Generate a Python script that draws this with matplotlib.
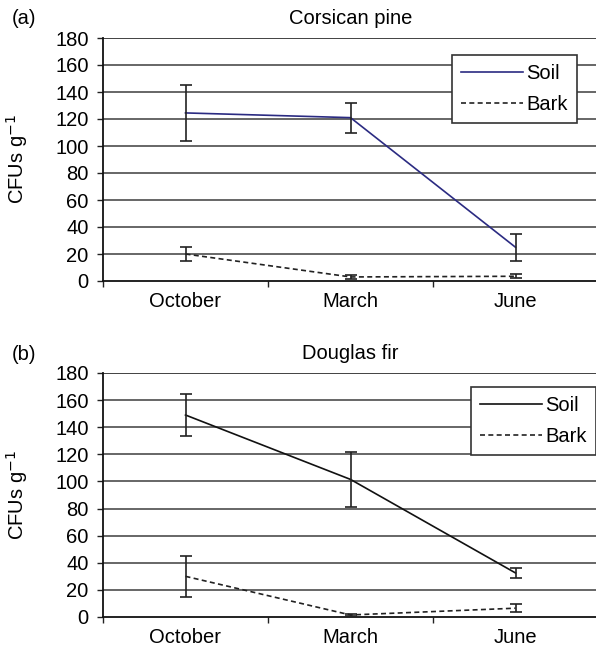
import matplotlib
matplotlib.use("Agg")
import matplotlib.pyplot as plt
import numpy as np

plt.rcParams['font.family'] = ['Liberation Sans', 'DejaVu Sans']

months = ["October", "March", "June"]
y_ticks = [0, 20, 40, 60, 80, 100, 120, 140, 160, 180]

# Panel (a) Corsican pine
pine_soil = [124.5, 121, 25]
pine_soil_err = [20.5, 11, 10]
pine_bark = [20, 3, 3.5]
pine_bark_err = [5.5, 1.5, 1.5]

# Panel (b) Douglas fir
fir_soil = [149, 101.5, 32.5]
fir_soil_err = [15.5, 20, 4]
fir_bark = [30, 1.5, 6.5]
fir_bark_err = [15, 0.7, 3]

W, H = 596, 650
fig = plt.figure(figsize=(W/100, H/100), dpi=100)

FS = 14.5
grid_c = "#5a5a5a"

def panel(rect, title, letter, soil, soil_err, bark, bark_err, soil_color, legend_rect):
    l, t, r, b = rect
    ax = fig.add_axes([l/W, 1 - b/H, (r - l)/W, (b - t)/H])
    x = np.arange(1, len(months) + 1)
    ax.set_xlim(0.5, len(months) + 0.5)
    ax.set_ylim(0, 180)
    ax.set_yticks(y_ticks)
    for v in y_ticks[1:]:
        ax.axhline(v, color=grid_c if v < 180 else "#333333", lw=1.3, zorder=0)
    ls, = ax.plot(x, soil, color=soil_color, lw=1.2, label="Soil", zorder=3)
    ax.errorbar(x, soil, yerr=soil_err, fmt="none", ecolor="#222222", elinewidth=1.2,
                capsize=4.3, capthick=1.2, zorder=4)
    lb, = ax.plot(x, bark, color="#222222", lw=1.2, ls=(0, (3, 2)), label="Bark", zorder=3)
    ax.errorbar(x, bark, yerr=bark_err, fmt="none", ecolor="#222222", elinewidth=1.2,
                capsize=4.3, capthick=1.2, zorder=4)
    ax.set_xticks(x)
    ax.set_xticklabels(months, fontsize=FS)
    ax.set_xticks(np.arange(0.5, len(months) + 1, 1.0), minor=True)
    ax.tick_params(axis="x", which="major", length=0, pad=8)
    ax.tick_params(axis="x", which="minor", length=4.3, width=1, color="#222222")
    ax.tick_params(axis="y", labelsize=FS, length=4.3, width=1, pad=6, color="#222222")
    for s in ["top", "right"]:
        ax.spines[s].set_visible(False)
    for s in ["left", "bottom"]:
        ax.spines[s].set_linewidth(1.3)
        ax.spines[s].set_color("#111111")
    ax.set_ylabel("CFUs g$^{-1}$", fontsize=FS)
    ax.yaxis.set_label_coords(-(l - 30)/(r - l), 0.5)
    fig.text((l + r)/2/W, 1 - (t - 20)/H, title, fontsize=FS, ha="center", va="center")
    fig.text(12/W, 1 - (t - 19)/H, letter, fontsize=FS, ha="left", va="center")
    ll, lt, lr, lbm = legend_rect
    leg = ax.legend(handles=[ls, lb], loc="upper left",
                    bbox_to_anchor=((ll - l)/(r - l), 1 - (lt - t)/(b - t)),
                    fontsize=FS, frameon=True, fancybox=False, handlelength=3.1,
                    handletextpad=0.15, borderpad=0.45, labelspacing=0.6,
                    borderaxespad=0)
    leg.get_frame().set_edgecolor("#333333")
    leg.get_frame().set_linewidth(1.2)
    leg.get_frame().set_facecolor("white")
    leg.get_frame().set_alpha(1)
    return ax

panel((103, 38, 598, 281), "Corsican pine", "(a)", pine_soil, pine_soil_err,
      pine_bark, pine_bark_err, "#2b2b82", (452, 55, 575, 122))
panel((103, 373, 598, 617), "Douglas fir", "(b)", fir_soil, fir_soil_err,
      fir_bark, fir_bark_err, "#111111", (471, 387, 588, 453))

fig.savefig("out.png", dpi=100)
